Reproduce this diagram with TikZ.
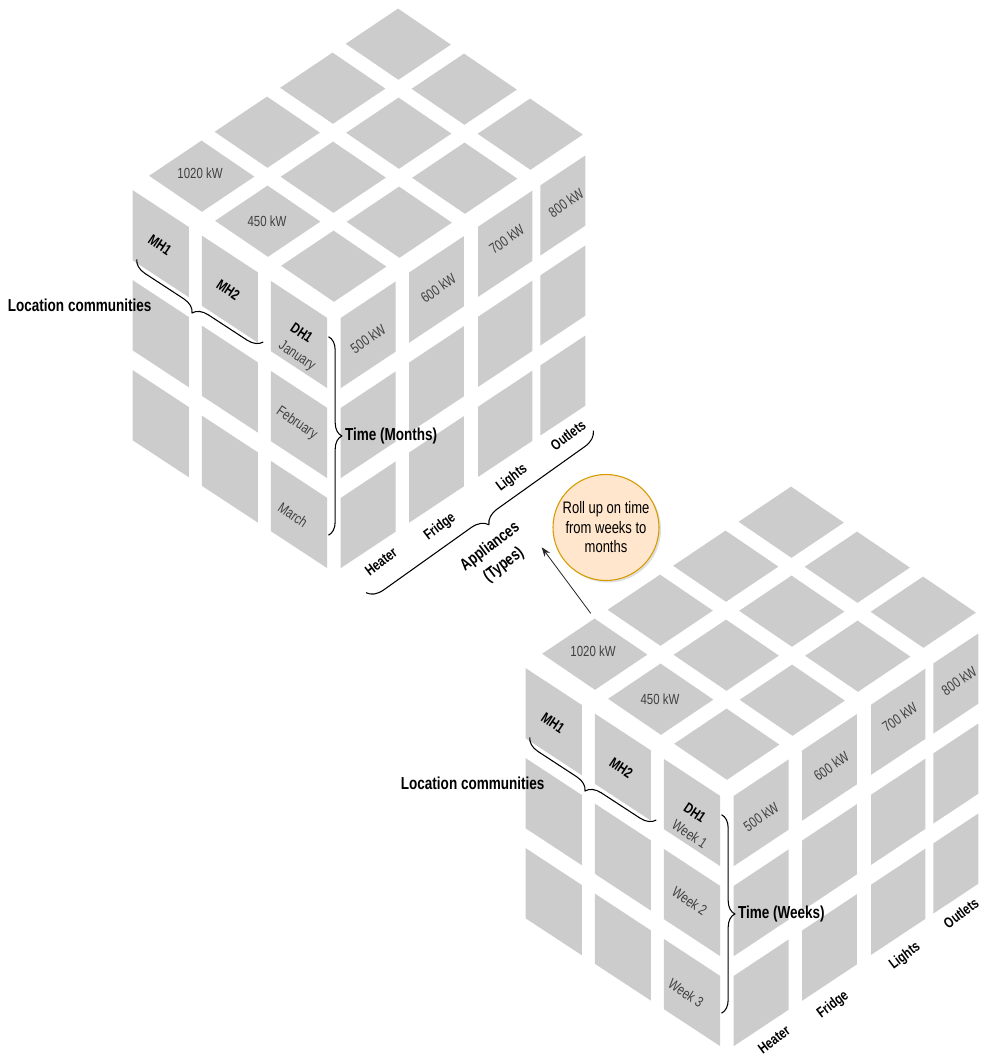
\documentclass[tikz,border=0pt]{standalone}
\usepackage{fontspec}
\setmainfont{Liberation Sans}[FakeStretch=0.78]
\usetikzlibrary{arrows.meta,decorations.pathreplacing,shadows}
\definecolor{Tile}{HTML}{CCCCCC}
\definecolor{Ink}{HTML}{404040}
\definecolor{Peach}{HTML}{FFE6CC}
\definecolor{Amber}{HTML}{D79B00}

\begin{document}
\begin{tikzpicture}[x=0.75pt,y=-0.75pt,>=Stealth,
    tile/.style={fill=Tile},
    kw/.style={font=\fontsize{11}{13}\selectfont,text=Ink,inner sep=1pt},
    hh/.style={font=\fontsize{11}{15.5}\selectfont\bfseries,align=left,rotate=-34,inner sep=1pt},
    rowlab/.style={kw,rotate=-34},
    typ/.style={font=\fontsize{11}{13}\selectfont\bfseries,rotate=37,inner sep=1pt},
    lab/.style={font=\fontsize{13}{15}\selectfont\bfseries,inner sep=1pt},
    curly/.style={decorate,decoration={brace,amplitude=#1},line width=0.8pt},
    curly/.default=10pt]
  \fill[white] (0,0) rectangle (981,1059);
  \foreach \cx/\cy/\cb/\unit/\ra/\rb/\rc in {334/310.7/1/Months/January/February/March,727/788.7/2/Weeks/Week 1/Week 2/Week 3}{
    \begin{scope}[shift={(\cx,\cy)}]
      \begin{scope}[x={(49.125pt,33pt)},y={(-49.5pt,33.75pt)}]
        \foreach \i in {0,...,3}\foreach \j in {0,1,2}
          \fill[tile] (\i+.1,\j+.1) -- (\i+.9,\j+.1) -- (\i+.9,\j+.9) -- (\i+.1,\j+.9) -- cycle;
      \end{scope}
      \begin{scope}[x={(-51.375pt,33.75pt)},y={(0pt,-67.5pt)}]
        \foreach \a/\b in {.1/.92,1.11/1.93,2.12/2.94}\foreach \r in {.13,1.13,2.13}
          \fill[tile] (\a,\r) -- (\b,\r) -- (\b,\r+.78) -- (\a,\r+.78) -- cycle;
      \end{scope}
      \begin{scope}[x={(50.25pt,33.375pt)},y={(0pt,-67.5pt)}]
        \foreach \a/\b in {.1/.92,1.12/1.94,2.15/2.96,3.08/3.75}\foreach \r in {.13,1.13,2.13}
          \fill[tile] (\a,\r) -- (\b,\r) -- (\b,\r+.78) -- (\a,\r+.78) -- cycle;
      \end{scope}
      \node[kw] (top1020-\cb) at (-134,-137) {1020 kW};
      \node[kw] (top450-\cb) at (-67,-89) {450 kW};
      \node[hh] (mh1-\cb) at (-174,-65.7) {MH1};
      \node[hh] (mh2-\cb) at (-105.7,-20.7) {MH2};
      \node[hh] (dh1-\cb) at (-31.5,37) {DH1\\{\mdseries\color{Ink}\ra}};
      \node[rowlab] (row2-\cb) at (-37.3,112.6) {\rb};
      \node[rowlab] (row3-\cb) at (-41,204.3) {\rc};
      \foreach \x/\y/\val in {34/28/500,104.3/-22.4/600,172.7/-71.4/700,232/-108/800}
        \node[kw,rotate=35] (kw\val-\cb) at (\x,\y) {\val{} kW};
      \foreach \x/\y/\val in {47/251/Heater,106/216.3/Fridge,178/167.3/Lights,234/124.3/Outlets}
        \node[typ] (\val-\cb) at (\x,\y) {\val};
      \coordinate (loc-a\cb) at (-70.7,31.3);
      \coordinate (loc-b\cb) at (-197.3,-51.4);
      \draw[curly=11pt] (loc-a\cb) -- (loc-b\cb);
      \node[lab,anchor=east] (loc-\cb) at (-181,-5.7) {Location communities};
      \coordinate (time-a\cb) at (-5.5,26);
      \coordinate (time-b\cb) at (-5.5,224.5);
      \draw[curly=10pt] (time-a\cb) -- (time-b\cb)
        node[lab,midway,anchor=west,xshift=11pt] (time-\cb) {Time (\unit)};
    \end{scope}}
  \coordinate (app-a) at (593.3,430.7);
  \coordinate (app-b) at (366,592.7);
  \draw[curly=12pt] (app-a) -- (app-b);
  \node[font=\fontsize{12.5}{17}\selectfont\bfseries,rotate=37,align=center] (app) at (497,556) {Appliances\\(Types)};
  \node[circle,minimum size=79.5pt,inner sep=0pt,fill=Peach,draw=Amber,line width=0.8pt,
    drop shadow={opacity=.25,shadow xshift=1.5pt,shadow yshift=-1.5pt},
    font=\fontsize{12.5}{14.6}\selectfont,align=center] (rollup) at (606,527.5) {Roll up on time\\from weeks to\\months};
  \coordinate (rollfrom) at (590.7,613.3);
  \coordinate (rollto) at (541.7,547.3);
  \draw[-{Stealth[length=7pt,width=5pt]},line width=0.6pt,black!85] (rollfrom) -- (rollto);
\end{tikzpicture}
\end{document}
